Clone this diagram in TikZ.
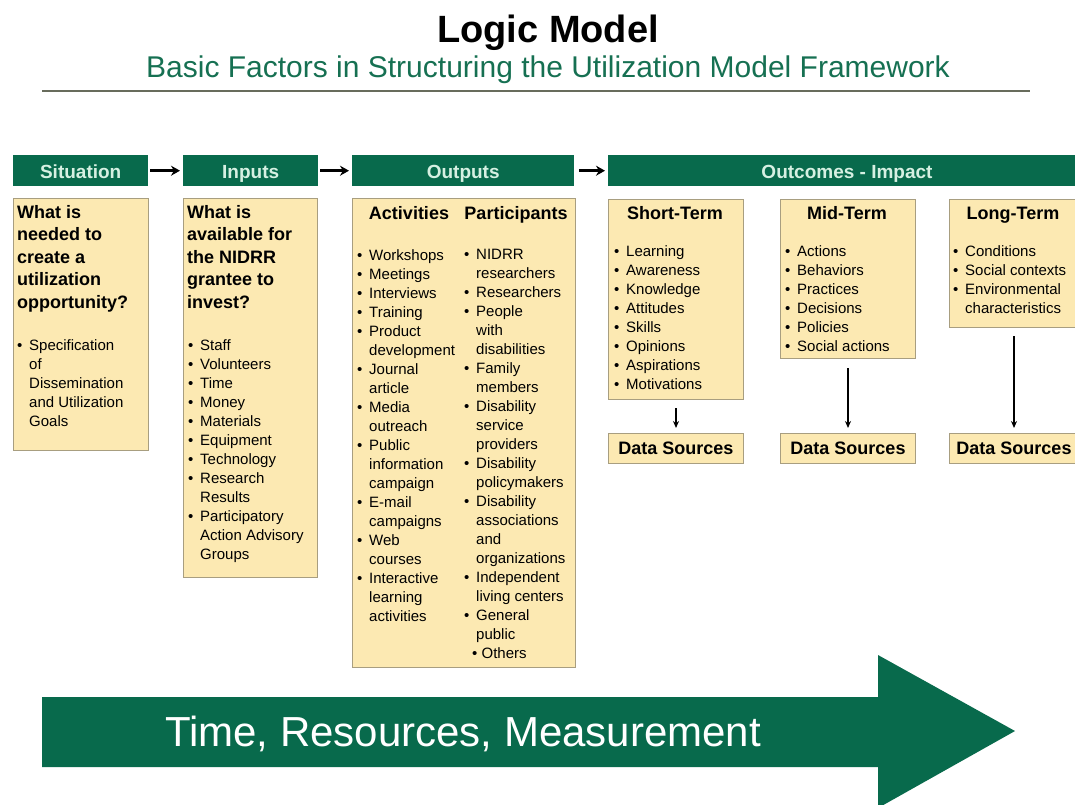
\documentclass[tikz,border=0pt]{standalone}
\usepackage{fontspec}
\setmainfont{Liberation Sans}
\usetikzlibrary{arrows.meta}

\definecolor{lmgreen}{RGB}{8,106,76}
\definecolor{lmmint}{RGB}{214,240,226}
\definecolor{lmfill}{RGB}{252,233,178}
\definecolor{lmedge}{RGB}{168,158,128}
\definecolor{lmsub}{RGB}{22,112,82}
\definecolor{lmrule}{RGB}{104,108,92}

\newcommand{\bl}{\makebox[12pt][l]{\textbullet}}
\newcommand{\hg}{\hspace*{12pt}}

\begin{document}
\begin{tikzpicture}[x=1pt, y=-1pt,
  header/.style={fill=lmgreen, text=lmmint, anchor=north west, inner sep=0pt,
    minimum height=31pt, text height=16.5pt, text depth=1.5pt,
    font=\bfseries\fontsize{19}{22}\selectfont},
  ybox/.style={draw=lmedge, fill=lmfill, line width=1pt, anchor=north west, inner sep=0pt},
  qtext/.style={anchor=north west, align=left, inner sep=0pt,
    font=\bfseries\fontsize{18}{22.5}\selectfont},
  ltext/.style={anchor=north west, align=left, inner sep=0pt,
    font=\fontsize{15}{19}\selectfont},
  subhead/.style={anchor=base, inner sep=0pt, font=\bfseries\fontsize{18}{22}\selectfont},
  dsbox/.style={ybox, minimum height=30pt, font=\bfseries\fontsize{18}{22}\selectfont},
  flow/.style={line width=2.5pt, -{Stealth[length=9pt, width=10pt]}},
  down/.style={line width=1.3pt, -{Stealth[length=7pt, width=6pt]}}
]

  \useasboundingbox (0,0) rectangle (1075,804);
  \clip (0,0) rectangle (1075,804);

  \node[font=\bfseries\fontsize{38}{42}\selectfont] (title) at (548,33) {Logic Model};
  \node[font=\fontsize{30}{34}\selectfont, text=lmsub] (subtitle) at (548,70)
    {Basic Factors in Structuring the Utilization Model Framework};
  \draw[lmrule, line width=2pt] (42,91) -- (1030,91);

  \node[header, minimum width=135pt] (sith)  at (13,155)  {Situation};
  \node[header, minimum width=135pt] (inh)   at (183,155) {Inputs};
  \node[header, minimum width=222pt] (outh)  at (352,155) {Outputs};
  \node[header, minimum width=477pt] (outch) at (608,155) {};
  \node[text=lmmint, inner sep=0pt, text height=16.5pt, text depth=1.5pt,
    font=\bfseries\fontsize{19}{22}\selectfont] (outct) at (847,170.5) {Outcomes - Impact};

  \draw[flow, shorten <=2pt, shorten >=3pt] (sith.east) -- (inh.west);
  \draw[flow, shorten <=2pt, shorten >=3pt] (inh.east)  -- (outh.west);
  \draw[flow, shorten <=5pt, shorten >=3pt] (outh.east) -- (outch.west);

  \node[ybox, minimum width=135pt, minimum height=252pt] (sitbox) at (13,198)  {};
  \node[ybox, minimum width=134pt, minimum height=379pt] (inbox)  at (183,198) {};
  \node[ybox, minimum width=223pt, minimum height=469pt] (outbox) at (352,198) {};
  \node[ybox, minimum width=135pt, minimum height=200pt] (stbox)  at (608,199) {};
  \node[ybox, minimum width=135pt, minimum height=159pt] (mtbox)  at (780,199) {};
  \node[ybox, minimum width=129pt, minimum height=128pt] (ltbox)  at (949,199) {};

  \node[qtext] (sitq) at (17,205)
    {What is\\needed to\\create a\\utilization\\opportunity?};
  \node[ltext] (sitl) at (17,339)
    {\bl Specification\\\hg of\\\hg Dissemination\\\hg and Utilization\\\hg Goals};

  \node[qtext] (inq) at (187,205)
    {What is\\available for\\the NIDRR\\grantee to\\invest?};
  \node[ltext] (inl) at (188,339)
    {\bl Staff\\\bl Volunteers\\\bl Time\\\bl Money\\\bl Materials\\\bl Equipment\\
     \bl Technology\\\bl Research\\\hg Results\\\bl Participatory\\\hg Action Advisory\\\hg Groups};

  \node[subhead] (acth)  at (409,219) {Activities};
  \node[subhead] (parth) at (516,219) {Participants};
  \node[ltext] (actl) at (357,249)
    {\bl Workshops\\\bl Meetings\\\bl Interviews\\\bl Training\\\bl Product\\\hg development\\
     \bl Journal\\\hg article\\\bl Media\\\hg outreach\\\bl Public\\\hg information\\\hg campaign\\
     \bl E-mail\\\hg campaigns\\\bl Web\\\hg courses\\\bl Interactive\\\hg learning\\\hg activities};
  \node[ltext] (partl) at (464,249)
    {\bl NIDRR\\\hg researchers\\\bl Researchers\\\bl People\\\hg with\\\hg disabilities\\
     \bl Family\\\hg members\\\bl Disability\\\hg service\\\hg providers\\\bl Disability\\\hg policymakers\\
     \bl Disability\\\hg associations\\\hg and\\\hg organizations\\\bl Independent\\\hg living centers\\
     \bl General\\\hg public\\\hspace*{8pt}\textbullet\ Others};

  \node[subhead] (sth) at (675,219) {Short-Term};
  \node[subhead] (mth) at (847,219) {Mid-Term};
  \node[subhead] (lth) at (1013,219) {Long-Term};
  \node[ltext] (stl) at (614,245)
    {\bl Learning\\\bl Awareness\\\bl Knowledge\\\bl Attitudes\\\bl Skills\\\bl Opinions\\
     \bl Aspirations\\\bl Motivations};
  \node[ltext] (mtl) at (785,245)
    {\bl Actions\\\bl Behaviors\\\bl Practices\\\bl Decisions\\\bl Policies\\\bl Social actions};
  \node[ltext] (ltl) at (953,245)
    {\bl Conditions\\\bl Social contexts\\\bl Environmental\\\hg characteristics};

  \node[dsbox, minimum width=135pt] (stds) at (608,433) {Data Sources};
  \node[dsbox, minimum width=135pt] (mtds) at (780,433) {Data Sources};
  \node[dsbox, minimum width=129pt] (ltds) at (949,433) {Data Sources};

  \draw[down, shorten <=8pt, shorten >=5pt] (stbox.south) -- (stds.north);
  \draw[down, shorten <=9pt, shorten >=5pt] (mtbox.south) -- (mtds.north);
  \draw[down, shorten <=8pt, shorten >=5pt] (ltbox.south) -- (ltds.north);

  \fill[lmgreen] (42,697) -- (878,697) -- (878,655) -- (1015,731) -- (878,808)
    -- (878,767) -- (42,767) -- cycle;
  \node[text=white, font=\fontsize{42}{46}\selectfont] (tagline) at (463,734)
    {Time, Resources, Measurement};

\end{tikzpicture}
\end{document}
